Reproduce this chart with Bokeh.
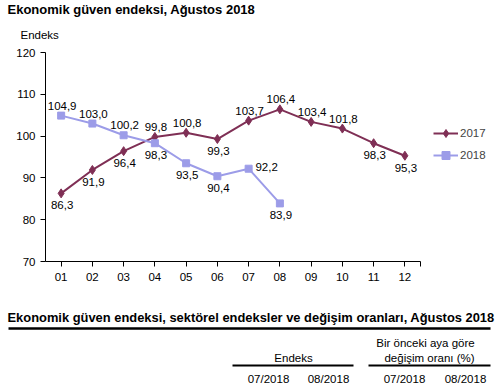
from bokeh.plotting import figure
from bokeh.layouts import column
from bokeh.models import (ColumnDataSource, LabelSet, Legend, LegendItem, FixedTicker)
from bokeh.core.properties import value
from bokeh.embed import file_html
from bokeh.resources import INLINE

# ---------------- data ----------------
months = ["01", "02", "03", "04", "05", "06", "07", "08", "09", "10", "11", "12"]
idx_2017 = [86.3, 91.9, 96.4, 99.8, 100.8, 99.3, 103.7, 106.4, 103.4, 101.8, 98.3, 95.3]
idx_2018 = [104.9, 103.0, 100.2, 98.3, 93.5, 90.4, 92.2, 83.9]
place_2017 = ["b", "b", "b", "a", "a", "b", "a", "a", "a", "a", "b", "b"]
place_2018 = ["a", "a", "a", "b", "b", "b", "r", "b"]
y_ticks = [70, 80, 90, 100, 110, 120]
chart_title = "Ekonomik güven endeksi, Ağustos 2018"
y_label = "Endeks"
table_title = "Ekonomik güven endeksi, sektörel endeksler ve değişim oranları, Ağustos 2018"
group_1 = "Endeks"
group_2 = ["Bir önceki aya göre", "değişim oranı (%)"]
table_cols = ["07/2018", "08/2018", "07/2018", "08/2018"]

C17 = "#7f2f55"
C18 = "#9c9ce8"
FONT = "Liberation Sans"
FS = "11.5px"
W = 500
H_HEAD, H_CHART, H_TABLE = 45, 250, 90
FRAME_L, FRAME_T, FRAME_B = 45, 7, 34
N_CAT = len(months)
PX_PER_CAT = 31.25
SHIFT = 4.5  # baseline correction


def canvas(h, y0):
    f = figure(width=W, height=h, x_range=(0, W), y_range=(y0 + h, y0),
               output_backend="svg", toolbar_location=None,
               x_axis_type=None, y_axis_type=None, min_border=0)
    f.frame_align = False
    f.outline_line_color = None
    f.grid.visible = False
    f.border_fill_color = "white"
    f.background_fill_color = "white"
    return f


def txt(f, s, x, y, size=FS, bold=False, align="left"):
    f.text(x=[x], y=[y - SHIFT], text=[s], text_font=value(FONT),
           text_font_size=value(size), text_font_style="bold" if bold else "normal",
           text_align=align, text_baseline="alphabetic", text_color="#000000")


# ---------------- header ----------------
head = canvas(H_HEAD, 0)
txt(head, chart_title, 7, 13.5, size="13px", bold=True)
txt(head, y_label, 20, 39.3)

# ---------------- chart ----------------
x_end = 0.5 + (W - FRAME_L) / PX_PER_CAT
p = figure(width=W, height=H_CHART, x_range=(0.5, x_end), y_range=(70, 120),
           output_backend="svg", toolbar_location=None,
           min_border_left=FRAME_L, min_border_right=0,
           min_border_top=FRAME_T, min_border_bottom=FRAME_B)
p.frame_align = False
p.outline_line_color = None
p.grid.visible = False
p.background_fill_color = "white"
p.border_fill_color = "white"

for ax in (p.xaxis[0], p.yaxis[0]):
    ax.axis_line_color = "#000000"
    ax.axis_line_width = 1
    ax.major_tick_line_color = "#000000"
    ax.minor_tick_line_color = None
    ax.major_tick_in = 0
    ax.major_tick_out = 5
    ax.major_label_text_font = FONT
    ax.major_label_text_font_size = FS
    ax.major_label_text_color = "#000000"

xt = list(range(1, N_CAT + 1)) + [N_CAT + 0.5]
p.xaxis[0].ticker = FixedTicker(ticks=xt)
p.xaxis[0].bounds = (0.5, N_CAT + 0.5)
ov = {i + 1: m for i, m in enumerate(months)}
ov[N_CAT + 0.5] = ""
p.xaxis[0].major_label_overrides = ov
p.xaxis[0].major_label_standoff = 6
p.yaxis[0].ticker = FixedTicker(ticks=y_ticks)
p.yaxis[0].major_label_standoff = 5


def offsets(places):
    dx, dy = [], []
    for c in places:
        if c == "a":
            dx.append(1); dy.append(10)
        elif c == "b":
            dx.append(1); dy.append(-12)
        else:
            dx.append(18); dy.append(2)
    return dx, dy


def fmt(v):
    return f"{v:.1f}".replace(".", ",")


dx17, dy17 = offsets(place_2017)
dx18, dy18 = offsets(place_2018)
src17 = ColumnDataSource(dict(x=list(range(1, len(idx_2017) + 1)), y=idx_2017,
                              lab=[fmt(v) for v in idx_2017], dx=dx17, dy=dy17))
src18 = ColumnDataSource(dict(x=list(range(1, len(idx_2018) + 1)), y=idx_2018,
                              lab=[fmt(v) for v in idx_2018], dx=dx18, dy=dy18))

l17 = p.line("x", "y", source=src17, line_color=C17, line_width=2)
m17 = p.scatter("x", "y", source=src17, marker="diamond", size=9,
                fill_color=C17, line_color=C17)
l18 = p.line("x", "y", source=src18, line_color=C18, line_width=2)
m18 = p.scatter("x", "y", source=src18, marker="square", size=7,
                fill_color=C18, line_color=C18)

for src in (src17, src18):
    p.add_layout(LabelSet(x="x", y="y", text="lab", x_offset="dx", y_offset="dy",
                          source=src, text_align="center", text_baseline="middle",
                          text_font=value(FONT), text_font_size=FS,
                          text_color="#000000"))

legend = Legend(items=[LegendItem(label="2017", renderers=[l17, m17]),
                       LegendItem(label="2018", renderers=[l18, m18])],
                location=(433 - FRAME_L, 96))
legend.glyph_width = 25
legend.glyph_height = 20
legend.label_standoff = 2
legend.padding = 0
legend.margin = 0
legend.spacing = 2
legend.border_line_color = None
legend.background_fill_alpha = 0
legend.label_text_font = FONT
legend.label_text_font_size = FS
p.add_layout(legend, "center")

# ---------------- table header ----------------
tb = canvas(H_TABLE, H_HEAD + H_CHART)
txt(tb, table_title, 7, 321, size="12.9px", bold=True)
tb.segment(x0=[8], y0=[328], x1=[490], y1=[328], line_color="#000000", line_width=2.5)
txt(tb, group_2[0], 425, 346.5, align="center")
txt(tb, group_2[1], 429, 361.5, align="center")
txt(tb, group_1, 293, 361.5, align="center")
tb.segment(x0=[232, 368], y0=[365, 365], x1=[353, 490], y1=[365, 365],
           line_color="#000000", line_width=1.8)
for s, cx in zip(table_cols, [268, 328, 404, 465]):
    txt(tb, s, cx, 383, align="center")

page = column(head, p, tb, spacing=0)
open("out.html", "w").write(file_html(page, INLINE))
